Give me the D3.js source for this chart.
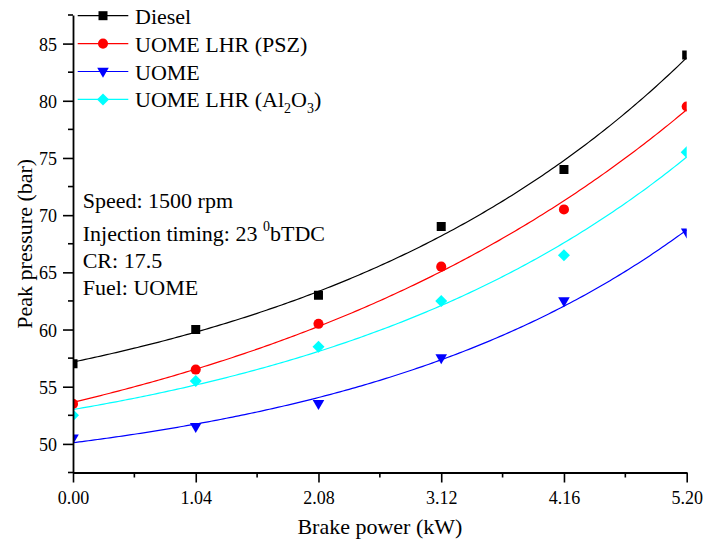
<!DOCTYPE html>
<html>
<head>
<meta charset="utf-8">
<script src="https://cdn.jsdelivr.net/npm/d3@7"></script>
<style>
  html, body { margin: 0; padding: 0; background: #fff; }
  svg { display: block; font-family: "Liberation Serif", "Times New Roman", serif; }
</style>
</head>
<body>
<svg id="chart" width="704" height="543"></svg>
<script>
// Brake power (kW) at each load step
const powers = [0, 1.04, 2.08, 3.12, 4.16, 5.20];
// Peak pressure (bar) per fuel / engine configuration
const diesel = [57, 60, 63, 69, 74, 84];
const uomePSZ = [53.5, 56.5, 60.5, 65.5, 70.5, 79.5];
const uome = [50.5, 51.5, 53.5, 57.5, 62.5, 68.5];
const uomeAl2O3 = [52.5, 55.5, 58.5, 62.5, 66.5, 75.5];

const xTicks = [0, 1.04, 2.08, 3.12, 4.16, 5.20];
const yTicks = [50, 55, 60, 65, 70, 75, 80, 85];

const seriesNames = ["Diesel", "UOME LHR (PSZ)", "UOME", "UOME LHR (Al2O3)"];
const seriesColors = ["#000000", "#ff0000", "#0000ff", "#00ffff"];
const seriesShapes = ["square", "circle", "triangleDown", "diamond"];
const seriesValues = [diesel, uomePSZ, uome, uomeAl2O3];

const conditions = ["Speed: 1500 rpm", "Injection timing: 23 |0|bTDC", "CR: 17.5", "Fuel: UOME"];

const svg = d3.select("#chart");
const m = { left: 73, right: 686.7, top: 15, bottom: 472.5 };

const x = d3.scaleLinear().domain([0, 5.2]).range([m.left, m.right]);
const y = d3.scaleLinear().domain([47.5, 87.5]).range([m.bottom, m.top]);

// Exponential growth fit y = y0 + A*exp(x/t): scan t, solve y0, A by least squares
function expGrowFit(xs, ys) {
  let best = null;
  for (let t = 0.2; t <= 80; t += 0.002) {
    const e = xs.map(v => Math.exp(v / t));
    const em = d3.mean(e), ym = d3.mean(ys);
    let sxy = 0, sxx = 0;
    e.forEach((v, i) => { sxy += (v - em) * (ys[i] - ym); sxx += (v - em) * (v - em); });
    const b = sxy / sxx, a = ym - b * em;
    let sse = 0;
    e.forEach((v, i) => { const r = ys[i] - (a + b * v); sse += r * r; });
    if (!best || sse < best.sse) best = { a, b, t, sse };
  }
  return v => best.a + best.b * Math.exp(v / best.t);
}

// marker shapes
function markerPath(shape) {
  switch (shape) {
    case "square": return "M-4.5,-4.5H4.5V4.5H-4.5Z";
    case "circle": return d3.symbol(d3.symbolCircle, 80)();
    case "triangleDown": return "M-5.8,-3.8L5.8,-3.8L0,6.2Z";
    case "diamond": return "M0,-6L6,0L0,6L-6,0Z";
  }
}

svg.append("defs").append("clipPath").attr("id", "plotClip")
  .append("rect")
  .attr("x", m.left).attr("y", m.top)
  .attr("width", m.right - m.left).attr("height", m.bottom - m.top);

const plot = svg.append("g").attr("clip-path", "url(#plotClip)");

const samples = d3.range(0, 201).map(i => 5.2 * i / 200);
const line = d3.line().x(d => x(d[0])).y(d => y(d[1]));

seriesValues.forEach((vals, si) => {
  const f = expGrowFit(powers, vals);
  plot.append("path")
    .attr("d", line(samples.map(s => [s, f(s)])))
    .attr("fill", "none")
    .attr("stroke", seriesColors[si])
    .attr("stroke-width", 1.2);
});

seriesValues.forEach((vals, si) => {
  plot.selectAll(null).data(vals).enter().append("path")
    .attr("transform", (d, i) => `translate(${x(powers[i])},${y(d)})`)
    .attr("d", markerPath(seriesShapes[si]))
    .attr("fill", seriesColors[si]);
});

// axes
const xAxisG = svg.append("g").attr("transform", `translate(0,${m.bottom})`);
xAxisG.call(d3.axisBottom(x).tickValues(xTicks).tickFormat(d3.format(".2f")).tickSize(10).tickSizeOuter(0).tickPadding(9));
xAxisG.selectAll(".tick").filter(d => false);
const xMinor = d3.range(0, 5).map(i => xTicks[i] + 0.52);
xAxisG.selectAll(".minor").data(xMinor).enter().append("line")
  .attr("class", "minor")
  .attr("x1", d => x(d)).attr("x2", d => x(d))
  .attr("y1", 0).attr("y2", 5);

const yAxisG = svg.append("g").attr("transform", `translate(${m.left},0)`);
yAxisG.call(d3.axisLeft(y).tickValues(yTicks).tickFormat(d3.format("d")).tickSize(10).tickSizeOuter(0).tickPadding(6));
const yMinor = d3.range(0, 9).map(i => 47.5 + 5 * i);
yAxisG.selectAll(".minor").data(yMinor).enter().append("line")
  .attr("class", "minor")
  .attr("x1", 0).attr("x2", -5)
  .attr("y1", d => y(d)).attr("y2", d => y(d));

[xAxisG, yAxisG].forEach(g => {
  g.select(".domain").attr("stroke", "#000").attr("stroke-width", 1.8);
  g.selectAll(".tick line, line.minor").attr("stroke", "#000").attr("stroke-width", 1.6);
  g.selectAll(".tick text").attr("font-family", "Liberation Serif, serif").attr("font-size", 18).attr("fill", "#000");
});
yAxisG.selectAll(".tick text").attr("dy", "0.36em");

// axis titles
svg.append("text")
  .attr("x", (m.left + m.right) / 2).attr("y", 534)
  .attr("text-anchor", "middle").attr("font-size", 22)
  .text("Brake power (kW)");
svg.append("text")
  .attr("transform", `translate(32,${(m.top + m.bottom) / 2}) rotate(-90)`)
  .attr("text-anchor", "middle").attr("font-size", 22)
  .text("Peak pressure (bar)");

// legend
const legend = svg.append("g");
seriesNames.forEach((name, i) => {
  const cy = 15.7 + i * 27.9;
  legend.append("line")
    .attr("x1", 77.7).attr("x2", 128.3).attr("y1", cy).attr("y2", cy)
    .attr("stroke", seriesColors[i]).attr("stroke-width", 1.2);
  legend.append("path")
    .attr("transform", `translate(103,${cy})`)
    .attr("d", markerPath(seriesShapes[i]))
    .attr("fill", seriesColors[i]);
  const t = legend.append("text").attr("x", 135).attr("y", cy + 8).attr("font-size", 22);
  const sub = name.match(/^(.*Al)2O3(\))$/);
  if (sub) {
    t.append("tspan").text(sub[1]);
    t.append("tspan").attr("font-size", 14).attr("dy", 6).text("2");
    t.append("tspan").attr("dy", -6).text("O");
    t.append("tspan").attr("font-size", 14).attr("dy", 6).text("3");
    t.append("tspan").attr("dy", -6).text(sub[2]);
  } else {
    t.text(name);
  }
});

// operating conditions
const condY = [208.3, 241, 268.3, 295];
conditions.forEach((c, i) => {
  const t = svg.append("text").attr("x", 82.7).attr("y", condY[i]).attr("font-size", 22);
  const parts = c.split("|");
  if (parts.length === 3) {
    t.append("tspan").text(parts[0]);
    t.append("tspan").attr("font-size", 14).attr("dy", -10).text(parts[1]);
    t.append("tspan").attr("dy", 10).text(parts[2]);
  } else {
    t.text(c);
  }
});
</script>
</body>
</html>
